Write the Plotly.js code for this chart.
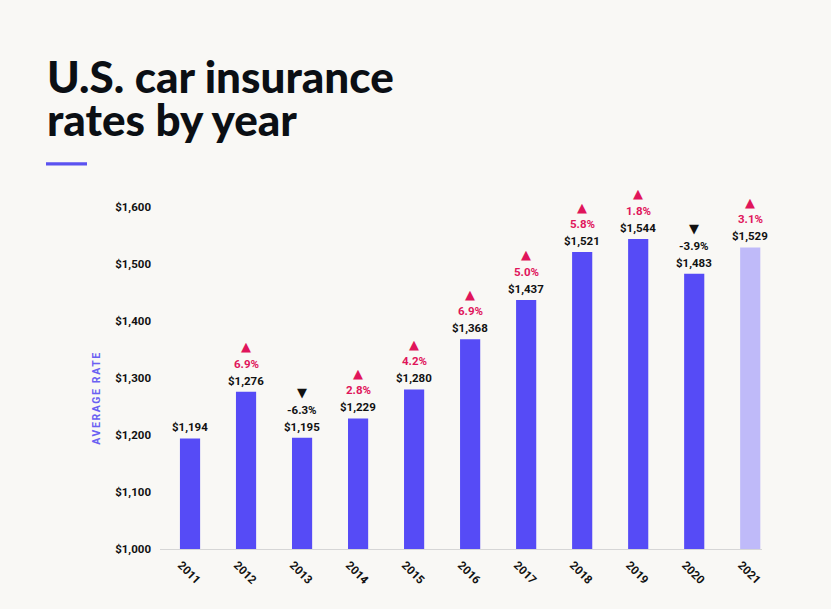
<!DOCTYPE html>
<html>
<head>
<meta charset="utf-8">
<script src="https://cdn.plot.ly/plotly-3.0.1.min.js"></script>
<style>
html,body{margin:0;padding:0;background:#f9f8f5;}
#chart{width:831px;height:609px;}
</style>
</head>
<body>
<div id="chart"></div>
<script>
// ---- data ----
const years = [2011, 2012, 2013, 2014, 2015, 2016, 2017, 2018, 2019, 2020, 2021];
const rates = [1194, 1276, 1195, 1229, 1280, 1368, 1437, 1521, 1544, 1483, 1529];
const valueLabels = ['$1,194','$1,276','$1,195','$1,229','$1,280','$1,368','$1,437','$1,521','$1,544','$1,483','$1,529'];
const changeLabels = ['', '6.9%', '-6.3%', '2.8%', '4.2%', '6.9%', '5.0%', '5.8%', '1.8%', '-3.9%', '3.1%'];
const titleLines = ['U.S. car insurance', 'rates by year'];
const yAxisTitle = 'AVERAGE RATE';

// ---- styles ----
const BG = '#f9f8f5';
const BAR = '#564bf6';
const BAR_LIGHT = '#bfbaf9';
const RED = '#e0155b';
const INK = '#111111';
const W = 831, H = 609;
const PL = 160, PR = 762, PT = 207, PB = 548.7;
const px2paperX = p => (p - PL) / (PR - PL);
const px2paperY = p => (PB - p) / (PB - PT);

const barColors = years.map((y, i) => i === years.length - 1 ? BAR_LIGHT : BAR);

const annotations = [];
years.forEach((yr, i) => {
  annotations.push({
    x: yr, y: rates[i], xref: 'x', yref: 'y',
    text: valueLabels[i], showarrow: false, xanchor: 'center', yanchor: 'middle', yshift: 11,
    font: {family: 'Roboto', size: 11.5, weight: 700, color: INK}
  });
  if (changeLabels[i]) {
    const neg = changeLabels[i].startsWith('-');
    annotations.push({
      x: yr, y: rates[i], xref: 'x', yref: 'y',
      text: changeLabels[i], showarrow: false, xanchor: 'center', yanchor: 'middle', yshift: 28,
      font: {family: 'Roboto', size: 11.5, weight: 700, color: neg ? INK : RED}
    });
    annotations.push({
      x: yr, y: rates[i], xref: 'x', yref: 'y',
      text: neg ? '▼' : '▲', showarrow: false, xanchor: 'center', yanchor: 'middle', yshift: 45,
      font: {family: 'DejaVu Sans', size: 13, color: neg ? INK : RED}
    });
  }
});

// title lines
annotations.push({
  xref: 'paper', yref: 'paper', x: px2paperX(45), y: px2paperY(76), xanchor: 'left', yanchor: 'middle',
  text: titleLines[0], showarrow: false,
  font: {family: 'Lato', size: 44, weight: 900, color: '#0b0f14'}
});
annotations.push({
  xref: 'paper', yref: 'paper', x: px2paperX(45), y: px2paperY(119.5), xanchor: 'left', yanchor: 'middle',
  text: titleLines[1], showarrow: false,
  font: {family: 'Lato', size: 44, weight: 900, color: '#0b0f14'}
});
// y-axis title
annotations.push({
  xref: 'paper', yref: 'paper', x: px2paperX(96), y: px2paperY(398), xanchor: 'center', yanchor: 'middle',
  text: yAxisTitle, showarrow: false, textangle: -90,
  font: {family: 'Roboto', size: 10.5, weight: 700, color: '#6a60f2'}
});

const trace = {
  type: 'bar',
  x: years,
  y: rates,
  width: 0.36,
  marker: {color: barColors, line: {width: 0}},
  hoverinfo: 'skip',
  cliponaxis: false
};

const layout = {
  width: W, height: H,
  paper_bgcolor: BG, plot_bgcolor: BG,
  margin: {l: PL, r: W - PR, t: PT, b: H - PB},
  showlegend: false,
  xaxis: {
    type: 'linear',
    range: [2010.464, 2021.21],
    tickmode: 'array', tickvals: years, ticktext: years.map(String),
    showgrid: false, zeroline: false,
    showline: true, linecolor: '#d6d6d6', linewidth: 1,
    ticks: '', tickangle: 45,
    ticklabelshift: -9, ticklabelstandoff: 4,
    tickfont: {family: 'Roboto', size: 11.5, weight: 700, color: INK},
    fixedrange: true
  },
  yaxis: {
    range: [1000, 1600],
    dtick: 100, tick0: 1000,
    tickprefix: '$', tickformat: ',d',
    showgrid: false, zeroline: false, showline: false,
    ticks: '', ticklabelstandoff: 8,
    tickfont: {family: 'Roboto', size: 11.5, weight: 700, color: INK},
    fixedrange: true
  },
  shapes: [{
    type: 'rect', xref: 'paper', yref: 'paper',
    x0: px2paperX(46), x1: px2paperX(87), y0: px2paperY(165.5), y1: px2paperY(162.3),
    fillcolor: '#5b52f0', line: {width: 0}
  }],
  annotations: annotations
};

Plotly.newPlot('chart', [trace], layout, {displayModeBar: false, staticPlot: true}).then(() => {
  document.querySelectorAll('.annotation-text').forEach(t => {
    if (t.textContent === yAxisTitle) t.style.letterSpacing = '1.6px';
  });
});
</script>
</body>
</html>
